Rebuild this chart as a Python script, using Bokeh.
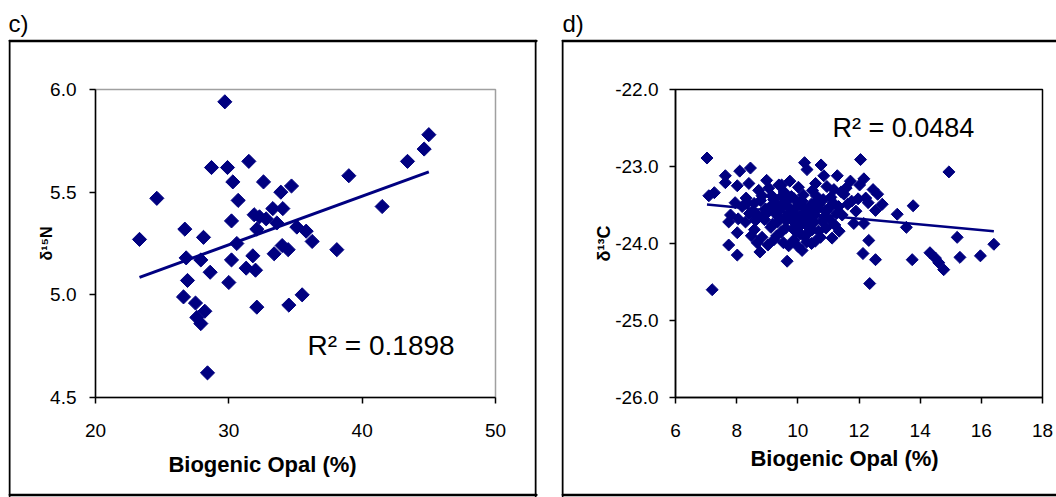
import numpy as np
from bokeh.plotting import figure
from bokeh.layouts import row
from bokeh.models import Label, FixedTicker, PrintfTickFormatter
from bokeh.embed import file_html
from bokeh.resources import INLINE

# ---------------- data: panel c ----------------
opal_c = [23.3, 24.6, 26.7, 26.8, 26.9, 26.6, 27.5, 27.6, 27.9, 28.2, 28.4, 27.9, 28.1,
          28.6, 28.7, 29.7, 29.9, 30.0, 30.2, 30.2, 30.3, 30.6, 30.7, 31.3, 31.5, 31.8,
          31.9, 32.0, 32.1, 32.1, 32.3, 32.6, 32.8, 33.3, 33.4, 33.6, 33.9, 34.0, 34.05,
          34.45, 34.5, 34.7, 35.1, 35.5, 35.8, 36.25, 38.1, 39.0, 41.5, 43.4, 44.65, 45.0]
d15n = [5.27, 5.47, 5.32, 5.18, 5.07, 4.99, 4.96, 4.89, 4.86, 4.92, 4.62, 5.17, 5.28,
        5.11, 5.62, 5.94, 5.62, 5.06, 5.17, 5.36, 5.55, 5.25, 5.46, 5.13, 5.65, 5.19,
        5.39, 5.12, 5.32, 4.94, 5.38, 5.55, 5.37, 5.42, 5.20, 5.35, 5.50, 5.24, 5.42,
        5.22, 4.95, 5.53, 5.33, 5.00, 5.31, 5.26, 5.22, 5.58, 5.43, 5.65, 5.71, 5.78]
c_xticks = [20, 30, 40, 50]
c_yticks = [4.5, 5.0, 5.5, 6.0]
c_r2 = "R² = 0.1898"

# ---------------- data: panel d ----------------
opal_d = [7.03, 7.20, 7.09, 7.27, 7.63, 7.63, 8.10, 8.45, 8.02, 8.40, 9.38, 9.74, 10.22,
          10.30, 10.76, 10.85, 11.29, 11.72, 12.05, 12.16, 12.46, 12.76, 12.54, 13.25,
          13.77, 13.55, 14.94, 12.32, 12.13, 12.54, 12.35, 11.12, 9.65, 8.02, 7.74, 8.67,
          8.76, 7.80, 7.74, 8.02, 13.74, 14.32, 14.50, 14.61, 14.77, 15.21, 15.30, 15.97,
          16.41, 11.83, 12.16,
          8.72, 9.05, 9.55, 10.02, 10.48, 10.95, 11.42,
          8.31, 8.83, 9.21, 9.47, 9.88, 10.18, 10.63, 11.08, 11.51, 11.97,
          8.18, 8.57, 8.94, 9.29, 9.71, 10.04, 10.33, 10.71, 11.02, 11.63,
          8.42, 8.69, 9.03, 9.38, 9.82, 10.12, 10.41, 10.88, 11.27,
          8.29, 8.91, 9.17, 9.62, 9.93, 10.24, 10.52, 10.79, 11.21,
          8.58, 9.12, 9.46, 9.84, 10.08, 10.37, 10.68,
          8.83, 9.31, 9.88, 10.21, 10.57,
          9.02, 9.53, 10.01, 10.29,
          8.35, 8.52, 8.78, 8.88, 9.10, 9.15, 9.26, 9.34, 9.42, 9.58, 9.60, 9.66, 9.77,
          9.79, 9.91, 9.97, 10.05, 10.10, 10.14, 10.19, 10.27, 10.31, 10.36, 10.44, 10.47,
          10.55, 10.60, 10.66, 10.74, 10.83, 10.91, 11.05, 11.15, 11.33, 11.45, 11.58,
          11.76, 11.90, 12.02, 12.22, 8.48, 8.62, 9.22, 9.70, 10.14, 10.45, 10.92, 11.35,
          7.95, 8.05, 8.98, 9.47, 10.58, 11.18, 12.30, 12.61]
d13c = [-22.89, -24.60, -23.38, -23.34, -23.12, -23.21, -23.06, -23.02, -23.25, -23.22,
        -23.24, -23.19, -22.95, -23.04, -22.98, -23.12, -23.12, -23.19, -22.91, -23.16,
        -23.30, -23.49, -23.57, -23.62, -23.51, -23.79, -23.07, -23.96, -24.13, -24.21,
        -24.52, -23.93, -24.23, -24.15, -24.02, -23.99, -24.11, -23.63, -23.72, -23.86,
        -24.21, -24.12, -24.19, -24.25, -24.34, -23.92, -24.18, -24.16, -24.01, -23.74,
        -23.74,
        -23.31, -23.28, -23.33, -23.27, -23.31, -23.26, -23.33,
        -23.41, -23.38, -23.43, -23.39, -23.42, -23.37, -23.44, -23.40, -23.36, -23.42,
        -23.52, -23.48, -23.55, -23.49, -23.53, -23.47, -23.56, -23.50, -23.54, -23.49,
        -23.61, -23.64, -23.59, -23.66, -23.60, -23.63, -23.58, -23.65, -23.61,
        -23.72, -23.69, -23.75, -23.70, -23.74, -23.68, -23.73, -23.71, -23.76,
        -23.82, -23.79, -23.85, -23.81, -23.87, -23.80, -23.84,
        -23.92, -23.90, -23.95, -23.91, -23.97,
        -24.02, -23.99, -24.04, -23.98,
        -23.47, -23.58, -23.44, -23.62, -23.52, -23.38, -23.61, -23.72, -23.55, -23.46,
        -23.80, -23.62, -23.68, -23.39, -23.55, -23.84, -23.66, -23.76, -23.45, -23.53,
        -23.89, -23.62, -23.71, -23.49, -23.82, -23.64, -23.38, -23.55, -23.92, -23.43,
        -23.58, -23.69, -23.47, -23.52, -23.63, -23.28, -23.45, -23.58, -23.24, -23.41,
        -23.90, -23.70, -23.95, -24.03, -24.09, -24.00, -23.80, -23.84,
        -23.47, -23.68, -23.18, -23.24, -23.22, -23.30, -23.47, -23.36]
d_xticks = [6, 8, 10, 12, 14, 16, 18]
d_yticks = [-26.0, -25.0, -24.0, -23.0, -22.0]
d_r2 = "R² = 0.0484"

x_title = "Biogenic Opal (%)"
NAVY = "#000080"
FONT = "Liberation Sans"


def style_axes(p, xticks, yticks, yfmt):
    p.xgrid.visible = False
    p.ygrid.visible = False
    p.xaxis.ticker = FixedTicker(ticks=xticks)
    p.yaxis.ticker = FixedTicker(ticks=yticks)
    p.yaxis.formatter = PrintfTickFormatter(format=yfmt)
    for ax in (p.xaxis[0], p.yaxis[0]):
        ax.axis_line_color = "black"
        ax.axis_line_width = 1.5
        ax.major_tick_line_color = "black"
        ax.major_tick_line_width = 1.5
        ax.major_tick_in = 0
        ax.major_tick_out = 6
        ax.minor_tick_line_color = None
        ax.major_label_text_font = FONT
        ax.major_label_text_font_size = "19px"
        ax.major_label_text_color = "black"
        ax.axis_label_text_font = FONT
        ax.axis_label_text_font_style = "bold"
        ax.axis_label_text_color = "black"


def add_fit(p, xs, ys, width):
    xs = np.asarray(xs)
    ys = np.asarray(ys)
    k, b = np.polyfit(xs, ys, 1)
    fx = [xs.min(), xs.max()]
    p.line(fx, [k * fx[0] + b, k * fx[1] + b], line_color=NAVY, line_width=width)


def edge(left, top, w, h):
    # thin empty label whose border draws one edge of the outer panel box
    return Label(x=left, y=top, x_units="canvas", y_units="canvas", text=" ",
                 text_font_size="1px", text_align="left", text_baseline="top",
                 padding=dict(left=0, right=w, top=0, bottom=h),
                 border_line_color="black", border_line_width=1.5,
                 background_fill_color="black")


def canvas_text(x, y, text, size, bold=False, align="left", baseline="top"):
    return Label(x=x, y=y, x_units="canvas", y_units="canvas", text=text,
                 text_font=FONT, text_font_size=size,
                 text_font_style="bold" if bold else "normal",
                 text_align=align, text_baseline=baseline, text_color="black")


# ---------------- panel c ----------------
pc = figure(width=549, height=497, x_range=(20, 50), y_range=(4.5, 6.0),
            output_backend="svg", toolbar_location=None,
            min_border_left=95, min_border_right=54, min_border_top=87, min_border_bottom=100)
pc.outline_line_color = "#a0a0a0"
pc.outline_line_width = 1.5
style_axes(pc, c_xticks, c_yticks, "%.1f")
pc.xaxis.major_label_standoff = 20
pc.yaxis.major_label_standoff = 13
pc.yaxis.axis_label = "δ¹⁵N"
pc.yaxis.axis_label_text_font_size = "16px"
pc.yaxis.axis_label_standoff = -8
pc.scatter(opal_c, d15n, marker="square", angle=np.pi / 4, size=10,
           fill_color=NAVY, line_color=NAVY)
add_fit(pc, opal_c, d15n, 3)
pc.add_layout(Label(x=35.9, y=4.752, text=c_r2, text_font=FONT, text_font_size="28px",
                    text_baseline="middle", text_color="black"))
pc.add_layout(edge(9, 40, 527, 0), "above")
pc.add_layout(edge(9, 494, 527, 0), "below")
pc.add_layout(edge(9, 40, 0, 455), "left")
pc.add_layout(edge(535, 40, 0, 455), "right")
pc.add_layout(canvas_text(8, 9, "c)", "24px"), "above")
pc.add_layout(canvas_text(262, 464, x_title, "22px", bold=True, align="center",
                          baseline="middle"), "below")

# ---------------- panel d ----------------
pd_ = figure(width=507, height=497, x_range=(6, 18), y_range=(-26, -22),
             output_backend="svg", toolbar_location=None,
             min_border_left=126, min_border_right=14, min_border_top=89, min_border_bottom=96)
pd_.outline_line_color = "black"
pd_.outline_line_width = 1.5
style_axes(pd_, d_xticks, d_yticks, "%.1f")
pd_.xaxis.major_label_standoff = 20
pd_.yaxis.major_label_standoff = 11
pd_.yaxis.axis_label = "δ¹³C"
pd_.yaxis.axis_label_text_font_size = "18px"
pd_.yaxis.axis_label_standoff = -2
pd_.scatter(opal_d, d13c, marker="square", angle=np.pi / 4, size=8.5,
            fill_color=NAVY, line_color=NAVY)
add_fit(pd_, opal_d, d13c, 2.5)
pd_.add_layout(Label(x=11.13, y=-22.50, text=d_r2, text_font=FONT, text_font_size="27px",
                     text_baseline="middle", text_color="black"))
pd_.add_layout(edge(13, 40, 520, 0), "above")
pd_.add_layout(edge(13, 494, 520, 0), "below")
pd_.add_layout(edge(13, 40, 0, 455), "left")
pd_.add_layout(canvas_text(13, 9, "d)", "24px"), "above")
pd_.add_layout(canvas_text(295, 458, x_title, "22px", bold=True, align="center",
                           baseline="middle"), "below")

layout = row(pc, pd_)
open("out.html", "w").write(file_html(layout, INLINE))
